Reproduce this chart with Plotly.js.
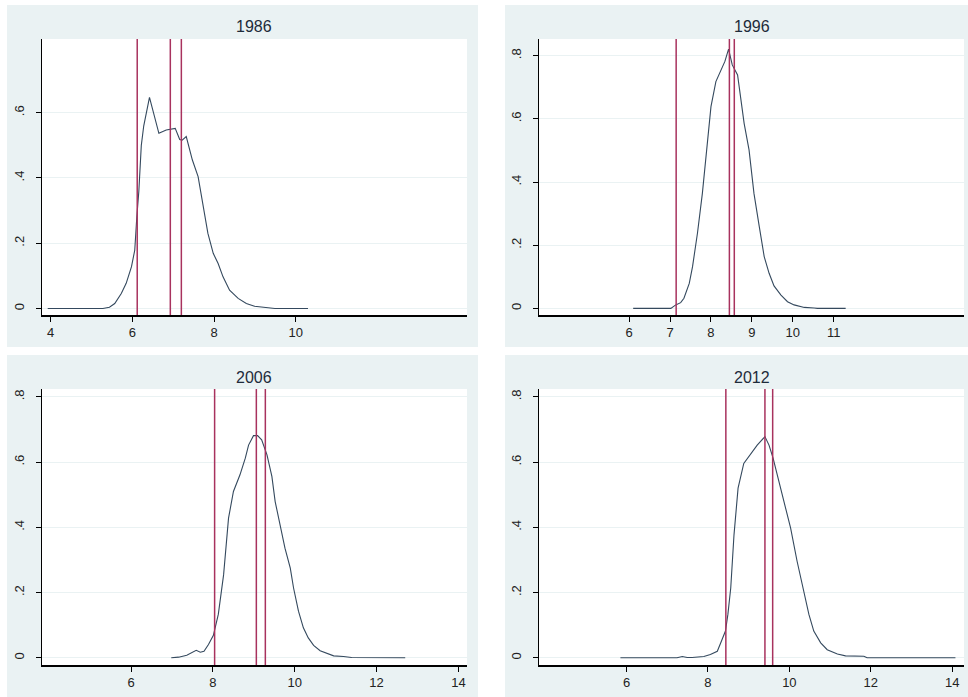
<!DOCTYPE html>
<html>
<head>
<meta charset="utf-8">
<script src="https://cdn.plot.ly/plotly-3.0.1.min.js"></script>
<style>html,body{margin:0;padding:0;background:#fff}#chart{width:968px;height:697px}</style>
</head>
<body>
<div id="chart"></div>
<script>
// ---- data ----
const years = ['1986', '1996', '2006', '2012'];

const x1986 = [3.93, 5.28, 5.44, 5.57, 5.73, 5.85, 5.98, 6.06, 6.11, 6.16, 6.22, 6.28, 6.42, 6.65, 6.83, 6.99, 7.05, 7.16, 7.22, 7.32, 7.47, 7.61, 7.73, 7.85, 7.98, 8.10, 8.22, 8.38, 8.59, 8.79, 8.99, 9.20, 9.49, 10.30];
const y1986 = [0, 0, 0.004, 0.015, 0.046, 0.077, 0.128, 0.179, 0.28, 0.36, 0.50, 0.56, 0.647, 0.537, 0.547, 0.549, 0.552, 0.518, 0.516, 0.527, 0.455, 0.404, 0.322, 0.23, 0.169, 0.138, 0.097, 0.056, 0.031, 0.015, 0.007, 0.005, 0, 0];

const x1996 = [6.10, 7.02, 7.14, 7.26, 7.34, 7.47, 7.55, 7.67, 7.79, 7.87, 8.00, 8.12, 8.24, 8.34, 8.43, 8.52, 8.65, 8.81, 8.93, 9.05, 9.18, 9.30, 9.42, 9.54, 9.71, 9.87, 10.03, 10.28, 10.52, 10.60, 11.29];
const y1996 = [0, 0, 0.011, 0.018, 0.032, 0.079, 0.132, 0.238, 0.364, 0.47, 0.639, 0.718, 0.75, 0.782, 0.821, 0.771, 0.739, 0.586, 0.502, 0.364, 0.259, 0.164, 0.111, 0.071, 0.042, 0.021, 0.011, 0.003, 0.001, 0, 0];

const x2006 = [6.98, 7.16, 7.36, 7.48, 7.59, 7.69, 7.78, 7.89, 8.01, 8.13, 8.26, 8.38, 8.50, 8.66, 8.79, 8.87, 8.99, 9.09, 9.19, 9.32, 9.44, 9.52, 9.64, 9.76, 9.89, 9.97, 10.09, 10.21, 10.33, 10.46, 10.62, 10.78, 10.95, 11.19, 11.39, 12.70];
const y2006 = [0, 0.002, 0.008, 0.015, 0.023, 0.017, 0.02, 0.041, 0.069, 0.133, 0.255, 0.428, 0.51, 0.561, 0.612, 0.652, 0.681, 0.681, 0.668, 0.622, 0.556, 0.479, 0.408, 0.336, 0.275, 0.214, 0.143, 0.092, 0.061, 0.038, 0.022, 0.013, 0.006, 0.004, 0.001, 0];

const x2012 = [5.85, 7.24, 7.37, 7.49, 7.61, 7.74, 7.90, 8.06, 8.23, 8.33, 8.43, 8.49, 8.56, 8.64, 8.74, 8.88, 9.05, 9.21, 9.40, 9.50, 9.60, 9.74, 9.87, 10.03, 10.19, 10.36, 10.48, 10.60, 10.77, 10.93, 11.18, 11.38, 11.83, 11.91, 14.08];
const y2012 = [0, 0, 0.004, 0.001, 0.001, 0.003, 0.004, 0.01, 0.02, 0.051, 0.082, 0.133, 0.214, 0.377, 0.52, 0.596, 0.624, 0.652, 0.678, 0.652, 0.612, 0.54, 0.479, 0.398, 0.296, 0.204, 0.133, 0.082, 0.046, 0.025, 0.012, 0.006, 0.005, 0, 0];

// vertical reference lines for each year
const vlines1986 = [6.12, 6.93, 7.20];
const vlines1996 = [7.15, 8.45, 8.57];
const vlines2006 = [8.04, 9.06, 9.28];
const vlines2012 = [8.44, 9.40, 9.59];

// tick labels
const xticks1986 = [4, 6, 8, 10];
const xticks1996 = [6, 7, 8, 9, 10, 11];
const xticks2006 = [6, 8, 10, 12, 14];
const xticks2012 = [6, 8, 10, 12, 14];
const yticks1986 = [0, 0.2, 0.4, 0.6];
const yticks8 = [0, 0.2, 0.4, 0.6, 0.8];
const ytickText = ['0', '.2', '.4', '.6', '.8'];

// ---- layout helpers ----
const W = 968, H = 697;
const fx = p => p / W;
const fy = p => 1 - p / H;

const panels = [
  {x: x1986, y: y1986, v: vlines1986, xt: xticks1986, yt: yticks1986, px: [42, 467], py: [39, 315], xr: [3.79, 14.19], yr: [-0.02, 0.826], bg: [7, 478, 5, 347], ty: 27},
  {x: x1996, y: y1996, v: vlines1996, xt: xticks1996, yt: yticks8, px: [539, 964], py: [39, 315], xr: [3.80, 14.18], yr: [-0.021, 0.853], bg: [505, 968, 5, 347], ty: 27},
  {x: x2006, y: y2006, v: vlines2006, xt: xticks2006, yt: yticks8, px: [42, 467], py: [389, 665], xr: [3.82, 14.21], yr: [-0.022, 0.824], bg: [7, 478, 355, 697], ty: 377},
  {x: x2012, y: y2012, v: vlines2012, xt: xticks2012, yt: yticks8, px: [539, 964], py: [389, 665], xr: [3.85, 14.29], yr: [-0.022, 0.824], bg: [505, 968, 355, 697], ty: 377}
];

const traces = [];
const bgShapes = [];
const lineShapes = [];
const annotations = [];
const layout = {
  width: W, height: H,
  margin: {l: 0, r: 0, t: 0, b: 0},
  paper_bgcolor: '#ffffff',
  plot_bgcolor: 'rgba(0,0,0,0)',
  showlegend: false,
  font: {family: 'Liberation Sans, Arial, sans-serif', size: 12, color: '#222'}
};

panels.forEach((p, i) => {
  const n = i + 1;
  const xa = n === 1 ? 'x' : 'x' + n;
  const ya = n === 1 ? 'y' : 'y' + n;
  const xk = n === 1 ? 'xaxis' : 'xaxis' + n;
  const yk = n === 1 ? 'yaxis' : 'yaxis' + n;

  traces.push({
    x: p.x, y: p.y, xaxis: xa, yaxis: ya, type: 'scatter', mode: 'lines',
    line: {color: '#34495e', width: 1.1}, hoverinfo: 'skip'
  });

  p.v.forEach(v => {
    lineShapes.push({type: 'line', xref: xa, yref: ya + ' domain', x0: v, x1: v, y0: 0, y1: 1,
      line: {color: '#a8325e', width: 1.5}, layer: 'above'});
  });

  // graph region (light blue-grey) then white plot region
  bgShapes.push({type: 'rect', xref: 'paper', yref: 'paper', layer: 'below',
    x0: fx(p.bg[0]), x1: fx(p.bg[1]), y0: fy(p.bg[3]), y1: fy(p.bg[2]),
    fillcolor: '#eaf2f3', line: {width: 0}});
  bgShapes.push({type: 'rect', xref: 'paper', yref: 'paper', layer: 'below',
    x0: fx(p.px[0]), x1: fx(p.px[1]), y0: fy(p.py[1]), y1: fy(p.py[0]),
    fillcolor: '#ffffff', line: {width: 0}});

  layout[xk] = {
    domain: [fx(p.px[0]), fx(p.px[1])],
    anchor: ya, range: p.xr, fixedrange: true,
    tickmode: 'array', tickvals: p.xt, ticktext: p.xt.map(String),
    showgrid: false, zeroline: false,
    showline: true, linecolor: '#000', linewidth: 1.5,
    ticks: 'outside', ticklen: 5, tickwidth: 1, tickcolor: '#000',
    tickfont: {size: 13, color: '#222'}
  };
  layout[yk] = {
    domain: [fy(p.py[1]), fy(p.py[0])],
    anchor: xa, range: p.yr, fixedrange: true,
    tickmode: 'array', tickvals: p.yt, ticktext: ytickText.slice(0, p.yt.length),
    tickangle: -90, ticklabelstandoff: 6,
    showgrid: true, gridcolor: '#eaf2f3', gridwidth: 1,
    zeroline: false,
    showline: true, linecolor: '#000', linewidth: 1.5,
    ticks: 'outside', ticklen: 5, tickwidth: 1, tickcolor: '#000',
    tickfont: {size: 13, color: '#222'}
  };

  annotations.push({
    text: years[i], xref: xa + ' domain', x: 0.5, yref: 'paper', y: fy(p.ty),
    xanchor: 'center', yanchor: 'middle', showarrow: false,
    font: {size: 16, color: '#1e2b3a', family: 'Liberation Sans, Arial, sans-serif'}
  });
});

layout.shapes = bgShapes.concat(lineShapes);
layout.annotations = annotations;

Plotly.newPlot('chart', traces, layout, {staticPlot: true, displayModeBar: false});
</script>
</body>
</html>
